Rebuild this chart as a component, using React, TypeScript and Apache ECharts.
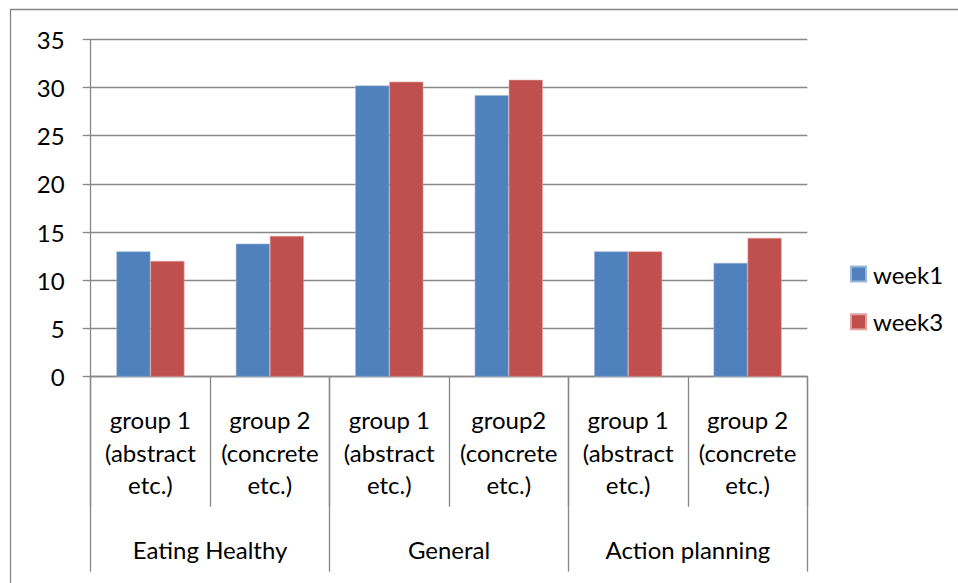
import React, { useEffect, useRef } from "react";
import * as echarts from "echarts";

const innerCategories = [
  "group 1\n(abstract\netc.)",
  "group 2\n(concrete\netc.)",
  "group 1\n(abstract\netc.)",
  "group2\n(concrete\netc.)",
  "group 1\n(abstract\netc.)",
  "group 2\n(concrete\netc.)",
];
const outerCategories = ["Eating Healthy", "General", "Action planning"];
const week1 = [13, 13.8, 30.2, 29.2, 13, 11.8];
const week3 = [12, 14.6, 30.6, 30.8, 13, 14.4];
const seriesNames = ["week1", "week3"];

const FONT = "Lato";
const GRAY = "#878787";

export default function App() {
  const ref = useRef<HTMLDivElement>(null);
  useEffect(() => {
    if (!ref.current) return;
    const chart = echarts.init(ref.current, null, { renderer: "svg" });
    chart.setOption({
      animation: false,
      backgroundColor: "#ffffff",
      textStyle: { fontFamily: FONT, color: "#000" },
      grid: { left: 90.7, right: 150.7, top: 39.3, bottom: 206.3, containLabel: false },
      legend: {
        orient: "vertical",
        left: 850,
        top: 259,
        padding: 0,
        itemWidth: 15,
        itemHeight: 15,
        itemGap: 17.7,
        icon: "rect",
        data: seriesNames,
        textStyle: { fontFamily: FONT, fontSize: 24, color: "#000", lineHeight: 30, padding: [0, 0, 0, 2] },
      },
      xAxis: [
        {
          type: "category",
          data: innerCategories,
          position: "bottom",
          axisLine: { show: true, lineStyle: { color: GRAY, width: 1.3 } },
          axisTick: { show: true, length: 130, alignWithLabel: false, lineStyle: { color: GRAY, width: 1.3 } },
          axisLabel: {
            interval: 0,
            margin: 26.6,
            fontFamily: FONT,
            fontSize: 24,
            lineHeight: 32.5,
            color: "#000",
            verticalAlign: "top",
          },
          splitLine: { show: false },
        },
        {
          type: "category",
          data: outerCategories,
          position: "bottom",
          axisLine: { show: false },
          axisTick: { show: true, length: 195, lineStyle: { color: GRAY, width: 1.3 } },
          axisLabel: {
            interval: 0,
            margin: 157,
            fontFamily: FONT,
            fontSize: 24,
            lineHeight: 32.5,
            color: "#000",
            verticalAlign: "top",
          },
          splitLine: { show: false },
        },
      ],
      yAxis: {
        type: "value",
        min: 0,
        max: 35,
        interval: 5,
        axisLine: { show: true, lineStyle: { color: GRAY, width: 1.3 } },
        axisTick: { show: true, length: 8, inside: false, lineStyle: { color: GRAY, width: 1.3 } },
        axisLabel: { margin: 26, fontFamily: FONT, fontSize: 24, color: "#000" },
        splitLine: { show: true, lineStyle: { color: GRAY, width: 1.3 } },
      },
      series: [
        {
          name: seriesNames[0],
          type: "bar",
          xAxisIndex: 0,
          data: week1,
          barGap: "0%",
          barCategoryGap: "43%",
          itemStyle: { color: "#4F81BD", borderColor: "#9DB7DB", borderWidth: 0.6 },
        },
        {
          name: seriesNames[1],
          type: "bar",
          xAxisIndex: 0,
          data: week3,
          barGap: "0%",
          barCategoryGap: "43%",
          itemStyle: { color: "#C0504D", borderColor: "#E0A09E", borderWidth: 0.6 },
        },
      ],
      graphic: [
        {
          type: "rect",
          shape: { x: 10.5, y: 9.5, width: 1200, height: 800 },
          style: { fill: "none", stroke: GRAY, lineWidth: 1.3 },
          silent: true,
        },
      ],
    });
    return () => chart.dispose();
  }, []);
  return (
    <div
      ref={ref}
      style={{ position: "fixed", left: 0, top: 0, width: 958, height: 583 }}
    />
  );
}
